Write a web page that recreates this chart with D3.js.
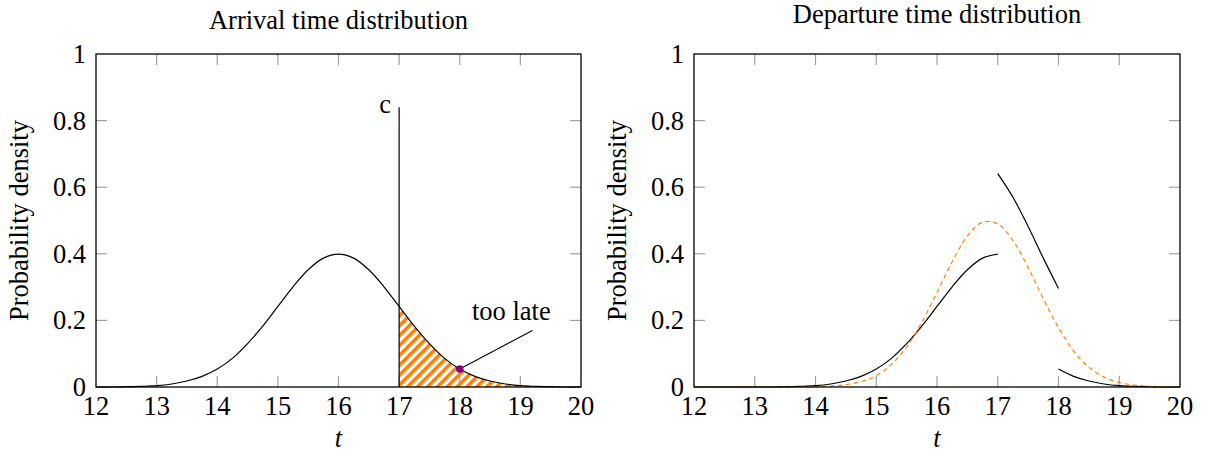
<!DOCTYPE html>
<html>
<head>
<meta charset="utf-8">
<script src="https://cdn.jsdelivr.net/npm/d3@7"></script>
<style>
  body { margin: 0; background: #fff; }
  text { font-family: "Liberation Serif", "DejaVu Serif", serif; fill: #000; }
</style>
</head>
<body>
<svg id="svg"></svg>
<script>
// data
const arrivalT = [12, 12.25, 12.5, 12.75, 13, 13.25, 13.5, 13.75, 14, 14.25, 14.5, 14.75, 15, 15.25, 15.5, 15.75,
                  16, 16.25, 16.5, 16.75, 17, 17.25, 17.5, 17.75, 18, 18.25, 18.5, 18.75, 19, 19.25, 19.5, 19.75, 20];
const arrivalDensity = [0.000, 0.000, 0.001, 0.002, 0.004, 0.009, 0.018, 0.032, 0.054, 0.086, 0.130, 0.183, 0.242, 0.301, 0.352, 0.387,
                        0.399, 0.387, 0.352, 0.301, 0.242, 0.183, 0.130, 0.086, 0.054, 0.032, 0.018, 0.009, 0.004, 0.002, 0.001, 0.000, 0.000];

const earlyT = [12, 12.25, 12.5, 12.75, 13, 13.25, 13.5, 13.75, 14, 14.25, 14.5, 14.75, 15, 15.25, 15.5, 15.75, 16, 16.25, 16.5, 16.75, 17];
const earlyDensity = [0.000, 0.000, 0.000, 0.000, 0.000, 0.000, 0.001, 0.002, 0.004, 0.009, 0.018, 0.032, 0.054, 0.086, 0.130, 0.183, 0.242, 0.301, 0.352, 0.387, 0.399];
const midT = [17, 17.25, 17.5, 17.75, 18];
const midDensity = [0.641, 0.570, 0.482, 0.387, 0.296];
const lateT = [18, 18.25, 18.5, 18.75, 19, 19.25, 19.5, 19.75, 20];
const lateDensity = [0.054, 0.032, 0.018, 0.009, 0.004, 0.002, 0.001, 0.000, 0.000];

const dashedT = arrivalT;
const dashedDensity = [0.000, 0.000, 0.000, 0.000, 0.000, 0.000, 0.000, 0.000, 0.001, 0.003, 0.007, 0.016, 0.034, 0.068, 0.120, 0.194,
                       0.284, 0.376, 0.453, 0.495, 0.490, 0.440, 0.359, 0.265, 0.178, 0.108, 0.059, 0.030, 0.013, 0.006, 0.002, 0.001, 0.000];

const xTicks = [12, 13, 14, 15, 16, 17, 18, 19, 20];
const yTicks = [0, 0.2, 0.4, 0.6, 0.8, 1];
const cutoff = 17, cutoffTop = 0.84;
const lateMark = [18, 0.054];

const width = 1207;
const height = 453;
const orange = "#ff8000";
const fontSize = "26.5px";
let svg = d3.select("#svg").attr("width", width).attr("height", height);

// north east lines for the "too late" area
let defs = svg.append("defs");
defs.append("pattern")
    .attr("id", "hatch")
    .attr("patternUnits", "userSpaceOnUse")
    .attr("width", 7).attr("height", 7)
    .attr("patternTransform", "rotate(45)")
    .append("rect")
    .attr("x", 0).attr("y", 0)
    .attr("width", 3.6).attr("height", 7)
    .attr("fill", orange);

function drawPanel(x0, x1, title, titleY) {
    let xScale = d3.scaleLinear().domain([12, 20]).range([x0, x1]);
    let yScale = d3.scaleLinear().domain([0, 1]).range([387, 54]);
    let g = svg.append("g");

    // inner ticks on all four sides
    let tickLen = 11;
    xTicks.slice(1, -1).forEach(t => {
        g.append("line").attr("x1", xScale(t)).attr("x2", xScale(t))
            .attr("y1", yScale(0)).attr("y2", yScale(0) - tickLen)
            .attr("stroke", "#a0a0a0").attr("stroke-width", 1.2);
        g.append("line").attr("x1", xScale(t)).attr("x2", xScale(t))
            .attr("y1", yScale(1)).attr("y2", yScale(1) + tickLen)
            .attr("stroke", "#a0a0a0").attr("stroke-width", 1.2);
    });
    yTicks.slice(1, -1).forEach(v => {
        g.append("line").attr("x1", x0).attr("x2", x0 + tickLen)
            .attr("y1", yScale(v)).attr("y2", yScale(v))
            .attr("stroke", "#a0a0a0").attr("stroke-width", 1.2);
        g.append("line").attr("x1", x1).attr("x2", x1 - tickLen)
            .attr("y1", yScale(v)).attr("y2", yScale(v))
            .attr("stroke", "#a0a0a0").attr("stroke-width", 1.2);
    });

    // tick labels
    g.selectAll(".xl").data(xTicks).enter().append("text")
        .attr("x", d => xScale(d)).attr("y", 415)
        .attr("text-anchor", "middle").attr("font-size", fontSize)
        .text(d => d);
    g.selectAll(".yl").data(yTicks).enter().append("text")
        .attr("x", x0 - 10).attr("y", d => yScale(d) + 9)
        .attr("text-anchor", "end").attr("font-size", fontSize)
        .text(d => d);

    g.append("text").attr("x", (x0 + x1) / 2).attr("y", 447)
        .attr("text-anchor", "middle").attr("font-size", fontSize)
        .attr("font-style", "italic").text("t");
    g.append("text")
        .attr("transform", `translate(${x0 - 68},${yScale(0.5)}) rotate(-90)`)
        .attr("text-anchor", "middle").attr("font-size", fontSize)
        .text("Probability density");
    g.append("text").attr("x", (x0 + x1) / 2).attr("y", titleY)
        .attr("text-anchor", "middle").attr("font-size", fontSize)
        .text(title);

    return { g, xScale, yScale };
}

function frame(p) {
    p.g.append("rect")
        .attr("x", p.xScale(12)).attr("y", p.yScale(1))
        .attr("width", p.xScale(20) - p.xScale(12))
        .attr("height", p.yScale(0) - p.yScale(1))
        .attr("fill", "none").attr("stroke", "#000").attr("stroke-width", 1.3);
}

function curve(p, ts, ds) {
    return d3.line()
        .x((d, i) => p.xScale(ts[i]))
        .y(d => p.yScale(Math.max(0, d)))
        .curve(d3.curveCatmullRom.alpha(0.5))(ds);
}

// left panel
let left = drawPanel(96, 581, "Arrival time distribution", 29);

let hatchIdx = arrivalT.map((t, i) => i).filter(i => arrivalT[i] >= cutoff);
let area = d3.area()
    .x(i => left.xScale(arrivalT[i]))
    .y0(left.yScale(0))
    .y1(i => left.yScale(arrivalDensity[i]))
    .curve(d3.curveCatmullRom.alpha(0.5));
left.g.append("path").attr("d", area(hatchIdx)).attr("fill", "url(#hatch)");

left.g.append("path").attr("d", curve(left, arrivalT, arrivalDensity))
    .attr("fill", "none").attr("stroke", "#000").attr("stroke-width", 1.2);

left.g.append("line")
    .attr("x1", left.xScale(cutoff)).attr("x2", left.xScale(cutoff))
    .attr("y1", left.yScale(0)).attr("y2", left.yScale(cutoffTop))
    .attr("stroke", "#000").attr("stroke-width", 1.2);
left.g.append("text")
    .attr("x", left.xScale(cutoff) - 8).attr("y", left.yScale(cutoffTop) + 6)
    .attr("text-anchor", "end").attr("font-size", fontSize).text("c");

left.g.append("line")
    .attr("x1", left.xScale(lateMark[0])).attr("y1", left.yScale(lateMark[1]))
    .attr("x2", left.xScale(19.2)).attr("y2", left.yScale(0.17))
    .attr("stroke", "#000").attr("stroke-width", 1.1);
left.g.append("circle")
    .attr("cx", left.xScale(lateMark[0])).attr("cy", left.yScale(lateMark[1]))
    .attr("r", 3.8).attr("fill", "#800080");
left.g.append("text")
    .attr("x", left.xScale(18.85)).attr("y", left.yScale(0.2))
    .attr("text-anchor", "middle").attr("font-size", fontSize)
    .text("too late");
frame(left);

// right panel
let right = drawPanel(694, 1180, "Departure time distribution", 23);
[[earlyT, earlyDensity], [midT, midDensity], [lateT, lateDensity]].forEach(([ts, ds]) => {
    right.g.append("path").attr("d", curve(right, ts, ds))
        .attr("fill", "none").attr("stroke", "#000").attr("stroke-width", 1.2);
});
right.g.append("path").attr("d", curve(right, dashedT, dashedDensity))
    .attr("fill", "none").attr("stroke", orange).attr("stroke-width", 1.2)
    .attr("stroke-dasharray", "4.5,3.5");
frame(right);
</script>
</body>
</html>
